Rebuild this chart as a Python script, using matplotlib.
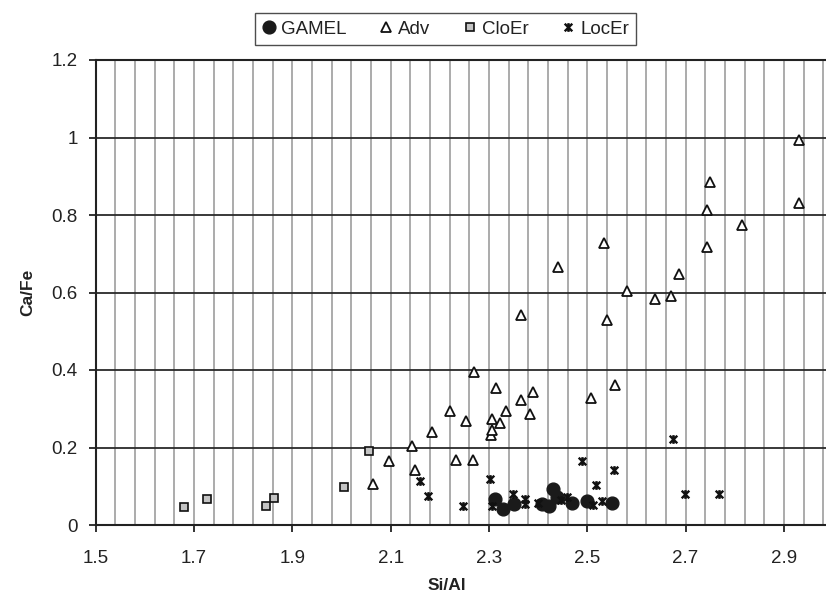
import numpy as np
import matplotlib
matplotlib.use("Agg")
import matplotlib.pyplot as plt
from matplotlib.path import Path
from matplotlib.ticker import MultipleLocator

plt.rcParams['font.family'] = ['Liberation Sans', 'DejaVu Sans']

# Si/Al vs Ca/Fe for the four groups
gamel_x = [2.312, 2.328, 2.352, 2.407, 2.422, 2.430, 2.439, 2.470, 2.499, 2.550]
gamel_y = [0.068, 0.041, 0.054, 0.054, 0.050, 0.092, 0.073, 0.057, 0.062, 0.057]

adv_x = [2.065, 2.097, 2.143, 2.150, 2.185, 2.221, 2.234, 2.254, 2.267, 2.270,
         2.304, 2.307, 2.306, 2.314, 2.322, 2.335, 2.365, 2.365, 2.383, 2.390,
         2.440, 2.507, 2.534, 2.541, 2.556, 2.580, 2.638, 2.670, 2.687, 2.743,
         2.743, 2.750, 2.815, 2.931, 2.931]
adv_y = [0.106, 0.165, 0.203, 0.142, 0.240, 0.294, 0.169, 0.269, 0.169, 0.395,
         0.232, 0.244, 0.273, 0.353, 0.262, 0.294, 0.322, 0.543, 0.287, 0.343,
         0.665, 0.328, 0.727, 0.530, 0.361, 0.603, 0.584, 0.592, 0.648, 0.718,
         0.814, 0.884, 0.773, 0.831, 0.993]

cloer_x = [1.680, 1.726, 1.846, 1.863, 2.006, 2.055]
cloer_y = [0.046, 0.067, 0.050, 0.070, 0.099, 0.191]

locer_x = [2.160, 2.177, 2.248, 2.302, 2.306, 2.349, 2.374, 2.374, 2.400, 2.447,
           2.458, 2.489, 2.511, 2.518, 2.531, 2.554, 2.675, 2.699, 2.769]
locer_y = [0.113, 0.075, 0.049, 0.120, 0.049, 0.079, 0.066, 0.054, 0.056, 0.064,
           0.071, 0.166, 0.052, 0.103, 0.063, 0.142, 0.221, 0.079, 0.079]

x_ticks = [1.5, 1.7, 1.9, 2.1, 2.3, 2.5, 2.7, 2.9]
x_tick_labels = ["1.5", "1.7", "1.9", "2.1", "2.3", "2.5", "2.7", "2.9"]
y_ticks = [0, 0.2, 0.4, 0.6, 0.8, 1.0, 1.2]
y_tick_labels = ["0", "0.2", "0.4", "0.6", "0.8", "1", "1.2"]

# asterisk-style marker: an X crossed by a vertical bar
star_path = Path(
    [(-1, -1), (1, 1), (-1, 1), (1, -1), (0, -1.15), (0, 1.15)],
    [Path.MOVETO, Path.LINETO, Path.MOVETO, Path.LINETO, Path.MOVETO, Path.LINETO],
)

fig = plt.figure(figsize=(8.26, 6.02), dpi=100)
ax = fig.add_axes([95.7 / 826, 1 - 525 / 602, (833 - 95.7) / 826, (525 - 60) / 602])

ax.set_xlim(1.5, 3.0)
ax.set_ylim(0, 1.2)

# grid: grey verticals at every 0.04, dark horizontals at each major step
ax.xaxis.set_minor_locator(MultipleLocator(0.04))
ax.set_xticks(x_ticks)
ax.set_xticklabels(x_tick_labels)
ax.set_yticks(y_ticks)
ax.set_yticklabels(y_tick_labels)
for xv in np.arange(1.54, 3.0, 0.04):
    ax.axvline(xv, color="#9d9d9d", lw=1.2, zorder=0)
for yv in y_ticks[1:]:
    ax.axhline(yv, color="#2a2a2a", lw=1.3, zorder=0.5)

ax.tick_params(axis="both", which="major", direction="out", length=5, width=1.3,
               color="#222222", labelsize=13.5, labelcolor="#222222")
ax.tick_params(axis="x", which="minor", length=0)
ax.tick_params(axis="y", pad=8)
ax.tick_params(axis="x", pad=13)

for side in ["left", "bottom", "top", "right"]:
    ax.spines[side].set_color("#222222")
    ax.spines[side].set_linewidth(1.5)

ax.plot(gamel_x, gamel_y, linestyle="none", marker="o", ms=9.2,
        mfc="#1a1a1a", mec="#1a1a1a", label="GAMEL", zorder=3)
ax.plot(adv_x, adv_y, linestyle="none", marker="^", ms=7.0,
        mfc="white", mec="#111111", mew=1.3, label="Adv", zorder=4)
ax.plot(cloer_x, cloer_y, linestyle="none", marker="s", ms=6.2,
        mfc="#c4c4c4", mec="#111111", mew=1.2, label="CloEr", zorder=4)
ax.plot(locer_x, locer_y, linestyle="none", marker=star_path, ms=6.3,
        mfc="none", mec="#111111", mew=1.7, label="LocEr", zorder=5)

leg = fig.legend(loc="center", bbox_to_anchor=(445.5 / 826, 1 - 29 / 602),
                 ncol=4, frameon=True, fancybox=False, fontsize=13.5,
                 handlelength=0.7, handletextpad=0.3, columnspacing=1.75,
                 borderpad=0.38, borderaxespad=0, labelcolor="#222222")
leg.get_frame().set_edgecolor("#222222")
leg.get_frame().set_linewidth(1.0)

fig.text(28 / 826, 1 - 292 / 602, "Ca/Fe", rotation=90, ha="center", va="center",
         fontsize=12.5, fontweight="bold", color="#222222")
fig.text(447 / 826, 1 - 586 / 602, "Si/Al", ha="center", va="center",
         fontsize=12.5, fontweight="bold", color="#222222")

fig.savefig("out.png", dpi=100)
